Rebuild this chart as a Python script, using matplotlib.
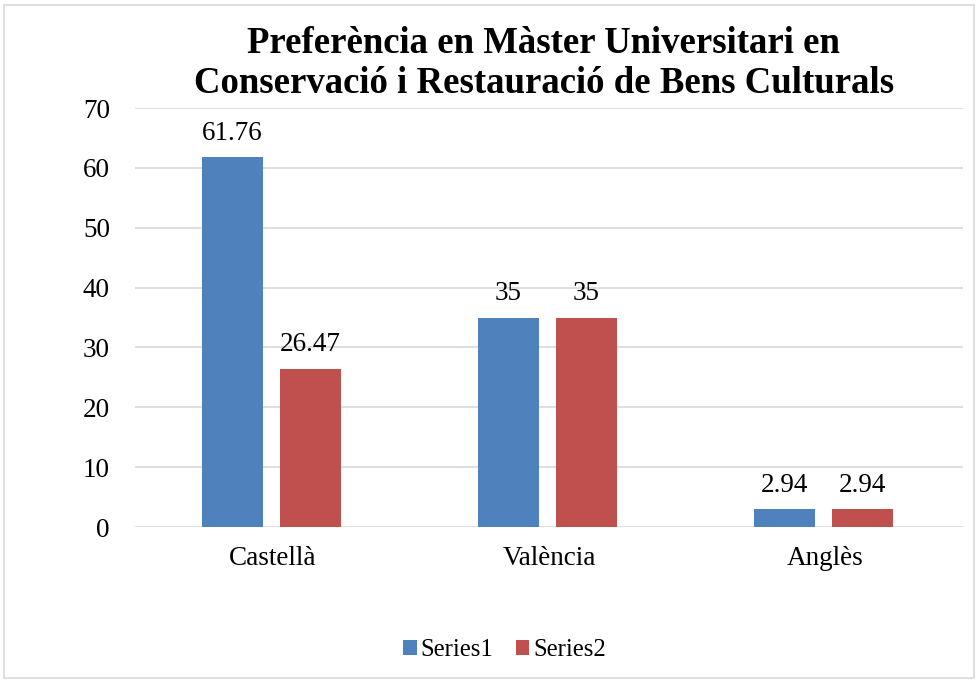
import matplotlib
matplotlib.use("Agg")
import matplotlib.pyplot as plt
from matplotlib.patches import Rectangle
import numpy as np

categories = ["Castellà", "València", "Anglès"]
series1 = [61.76, 35, 2.94]
series2 = [26.47, 35, 2.94]
series_names = ["Series1", "Series2"]
yticks = [0, 10, 20, 30, 40, 50, 60, 70]
title = "Preferència en Màster Universitari en\nConservació i Restauració de Bens Culturals"

plt.rcParams['font.family'] = ['Liberation Serif', 'DejaVu Serif']

fig = plt.figure(figsize=(9.78, 6.81), dpi=100)
fig.patches.append(Rectangle((0.004, 0.004), 0.992, 0.989, transform=fig.transFigure,
                             fill=False, edgecolor='#D9D9D9', linewidth=1.2))
ax = fig.add_axes([0.138, 0.2261, 0.847, 0.6153])

x = np.arange(len(categories))
w = 0.221
off = 0.141
b1 = ax.bar(x - off - 0.006, series1, w, color='#4F81BD', label=series_names[0], zorder=3)
b2 = ax.bar(x + off - 0.006, series2, w, color='#C0504D', label=series_names[1], zorder=3)

for bars, vals in ((b1, series1), (b2, series2)):
    for r, v in zip(bars, vals):
        ax.annotate(f"{v:g}", (r.get_x() + r.get_width() / 2, v), xytext=(0, 8),
                    textcoords='offset points', ha='center', va='bottom', fontsize=19.5)

ax.set_xlim(-0.5, 2.5)
ax.set_ylim(0, 70)
ax.set_yticks(yticks)
ax.set_yticklabels([str(t) for t in yticks])
ax.set_xticks(x)
ax.set_xticklabels(categories)
ax.tick_params(axis='both', length=0, labelsize=19.5)
ax.tick_params(axis='y', pad=18)
ax.tick_params(axis='x', pad=14)
ax.grid(axis='y', color='#D9D9D9', linewidth=1.2, zorder=0)
for s in ax.spines.values():
    s.set_visible(False)

fig.text(0.556, 0.907, title, ha='center', va='center', fontsize=26.5, fontweight='bold',
         linespacing=1.18)

leg = fig.legend(loc='center', bbox_to_anchor=(0.516, 0.0455), ncol=2, frameon=False,
                 fontsize=17.8, handlelength=0.55, handleheight=0.55, handletextpad=0.15,
                 columnspacing=0.9)

fig.savefig("out.png", dpi=100)
